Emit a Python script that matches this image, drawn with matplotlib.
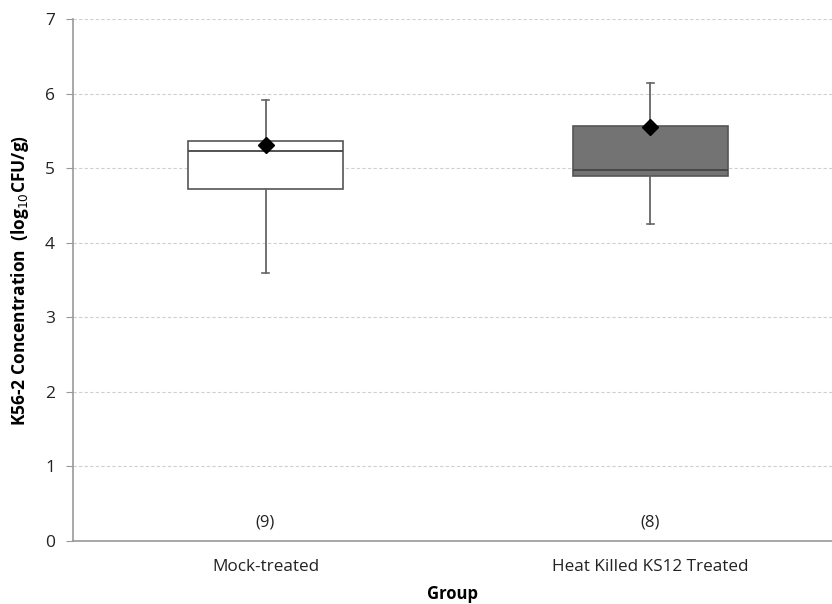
import matplotlib
matplotlib.use("Agg")
import matplotlib.pyplot as plt

categories = ["Mock-treated", "Heat Killed KS12 Treated"]
counts = ["(9)", "(8)"]
whisker_low = [3.60, 4.25]
q1 = [4.72, 4.90]
median = [5.23, 4.97]
q3 = [5.37, 5.57]
whisker_high = [5.91, 6.14]
means = [5.31, 5.55]
box_colors = ["#ffffff", "#737373"]

plt.rcParams['font.family'] = ['Open Sans', 'DejaVu Sans']

fig = plt.figure(figsize=(8.32, 6.04), dpi=100)
ax = fig.add_axes([73/832, 1-541/604, 1-73/832, (541-19)/604])

positions = [0.5, 1.5]
stats = []
for i, c in enumerate(categories):
    stats.append(dict(label=c, whislo=whisker_low[i], q1=q1[i], med=median[i],
                      q3=q3[i], whishi=whisker_high[i], mean=means[i], fliers=[]))

bp = ax.bxp(stats, positions=positions, widths=0.405, patch_artist=True,
            showmeans=True, showfliers=False,
            boxprops=dict(edgecolor="#555555", linewidth=1.2),
            medianprops=dict(color="#444444", linewidth=1.3),
            whiskerprops=dict(color="#666666", linewidth=1.3),
            capprops=dict(color="#666666", linewidth=1.2),
            meanprops=dict(marker="D", markerfacecolor="black", markeredgecolor="black", markersize=8),
            capwidths=0.02, zorder=3)
for patch, col in zip(bp['boxes'], box_colors):
    patch.set_facecolor(col)

for p, t in zip(positions, counts):
    ax.text(p, 0.25, t, ha="center", va="center", fontsize=12, color="#222222")

ax.set_xlim(0, (832-73)/385)
ax.set_ylim(0, 7)
ax.set_yticks(range(0, 8))
ax.set_xticks(positions)
ax.set_xticklabels(categories, fontsize=12.3, color="#222222")
ax.tick_params(axis='x', length=0, pad=13)
ax.tick_params(axis='y', length=5, color="#999999", labelsize=12.5, labelcolor="#222222", pad=8)
ax.yaxis.grid(True, linestyle=(0, (3, 2)), color="#d0d0d0", linewidth=0.8)
ax.set_axisbelow(True)
for s in ["top", "right"]:
    ax.spines[s].set_visible(False)
for s in ["left", "bottom"]:
    ax.spines[s].set_color("#999999")
    ax.spines[s].set_linewidth(1.2)

ax.set_ylabel(r"K56-2 Concentration  (log$_{10}$CFU/g)", fontsize=12.5, fontweight="bold", labelpad=10)
ax.set_xlabel("Group", fontsize=12, fontweight="bold", labelpad=7)

fig.savefig("out.png", dpi=100)
